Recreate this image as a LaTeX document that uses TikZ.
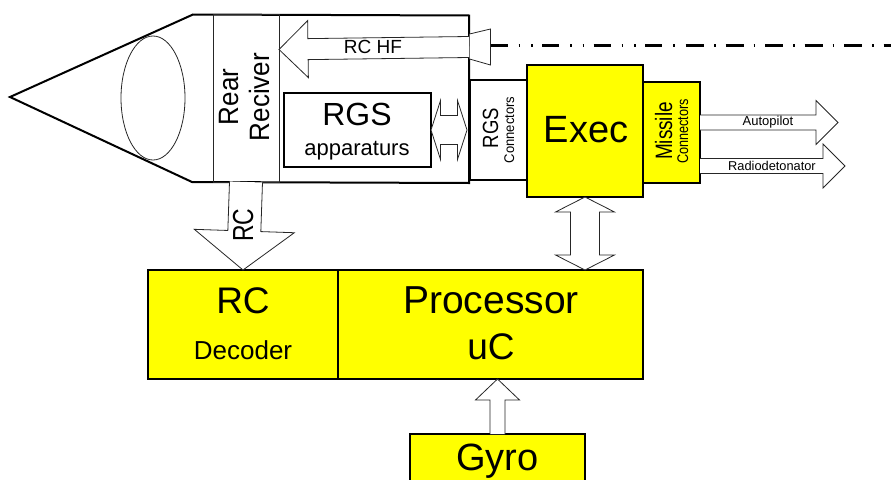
\documentclass[tikz,border=0pt]{standalone}
\usepackage{fontspec}
\setmainfont{Liberation Sans}
\usepackage{graphicx}
\usepackage{xcolor}
\usetikzlibrary{calc}
\definecolor{boxyellow}{RGB}{255,255,0}
\newcommand{\fs}[1]{\fontsize{#1}{#1}\selectfont}
\newcommand{\squeeze}[2]{\scalebox{#1}[1]{#2}}
% block arrow: from, to, shaft half width, head half width, head length
\newcommand{\blockarrow}[5]{%
  \coordinate (bh) at ($(#2)!#5pt!(#1)$);
  \filldraw[arrowline] ($(#1)!#3pt!90:(#2)$) -- ($(bh)!#3pt!90:(#2)$) -- ($(bh)!#4pt!90:(#2)$) -- (#2)
    -- ($(bh)!#4pt!-90:(#2)$) -- ($(bh)!#3pt!-90:(#2)$) -- ($(#1)!#3pt!-90:(#2)$);}
% same with a head on both ends
\newcommand{\twowayarrow}[5]{%
  \coordinate (bh) at ($(#2)!#5pt!(#1)$);
  \coordinate (bt) at ($(#1)!#5pt!(#2)$);
  \filldraw[arrowline] (#1) -- ($(bt)!#4pt!90:(#2)$) -- ($(bt)!#3pt!90:(#2)$) -- ($(bh)!#3pt!90:(#2)$) -- ($(bh)!#4pt!90:(#2)$) -- (#2)
    -- ($(bh)!#4pt!-90:(#2)$) -- ($(bh)!#3pt!-90:(#2)$) -- ($(bt)!#3pt!-90:(#2)$) -- ($(bt)!#4pt!-90:(#2)$) -- cycle;}
\tikzset{
  hull/.style={draw=black, line width=2pt, line join=miter},
  thinline/.style={draw=black!85, line width=0.8pt},
  arrowline/.style={draw=black!85, fill=white, line width=0.8pt},
  plainbox/.style={draw=black, line width=1.7pt, inner sep=0pt, outer sep=0pt},
  yellowbox/.style={plainbox, fill=boxyellow},
  label/.style={anchor=base, inner sep=0pt, outer sep=0pt},
  sideways/.style={label, rotate=90},
}
\begin{document}
\begin{tikzpicture}[x=1pt, y=-1pt]
\useasboundingbox (0,0) rectangle (891,479);
% missile body
\draw[hull] (10,97) -- (193,14.5) -- (469,15.5) -- (469,183) -- (192,182) -- cycle;
\draw[thinline] (153,98) ellipse (32 and 62);
\node[thinline, inner sep=0pt, outer sep=0pt, minimum width=66pt, minimum height=167.5pt] (rear) at (246,98.2) {};
\node[sideways, font=\fs{28}] (rearText) at (238,97) {\squeeze{.93}{Rear}};
\node[sideways, font=\fs{28}] (reciverText) at (269,97) {\squeeze{.93}{Reciver}};
% boxes in the body and behind it
\node[plainbox, minimum width=147pt, minimum height=74pt] (rgs) at (357.5,130) {};
\node[label, font=\fs{32}] (rgsText) at (357,125) {RGS};
\node[label, font=\fs{22}] (apparatursText) at (357,155) {apparaturs};
\node[plainbox, minimum width=57pt, minimum height=100pt] (rgsConn) at (498.5,130) {};
\node[sideways, font=\fs{22}] (rgsConnText) at (498,128) {\squeeze{.84}{RGS}};
\node[sideways, font=\fs{14}] (rgsConnSub) at (514,130) {\squeeze{.93}{Connectors}};
\node[yellowbox, minimum width=116pt, minimum height=132pt] (exec) at (585,131) {};
\node[label, font=\fs{38}] (execText) at (586,142) {Exec};
\node[yellowbox, minimum width=56.5pt, minimum height=101pt] (missile) at (671.7,132.5) {};
\node[sideways, font=\fs{23.7}] (missileText) at (672,131) {\squeeze{.8}{Missile}};
\node[sideways, font=\fs{15.4}] (missileSub) at (688,131.5) {\squeeze{.82}{Connectors}};
% lower row
\node[yellowbox, minimum width=190pt, minimum height=109pt] (decoder) at (243,324.5) {};
\node[label, font=\fs{37}] (decoderText) at (243,313) {RC};
\node[label, font=\fs{26}] (decoderSub) at (243,359) {Decoder};
\node[yellowbox, minimum width=305pt, minimum height=109pt] (proc) at (490.5,324.5) {};
\node[label, font=\fs{39}] (procText) at (491,313) {Processor};
\node[label, font=\fs{37}] (procSub) at (491,359) {uC};
\node[yellowbox, minimum width=175pt, minimum height=50pt] (gyro) at (497.5,459) {};
\node[label, font=\fs{38}] (gyroText) at (497.5,470) {Gyro};
% antenna horn and line of sight
\coordinate (hfTail) at (469,47);
\coordinate (hfTip) at (279,49.5);
\coordinate (horn) at (490.5,45.5);
\coordinate (losBreak) at (686,45.5);
\coordinate (losEnd) at (891,45.5);
\draw[arrowline] (469.5,34) -- (490.5,29) -- (490.5,65) -- (469.5,59);
\draw[line width=2.2pt, dash pattern=on 17pt off 11pt on 1.5pt off 11pt on 1.5pt off 9.5pt] (horn) -- (losBreak);
\draw[line width=2.2pt, dash pattern=on 18pt off 10pt on 1.5pt off 10pt] (losBreak) -- (losEnd);
% block arrows
\blockarrow{hfTail}{hfTip}{10.5}{28.5}{29}
\node[label, font=\fs{19}] (hfText) at (373,53) {RC HF};
\blockarrow{rear.south}{decoder.north}{16.5}{50}{39}
\node[sideways, font=\fs{29}] (rcText) at (253,225) {\squeeze{.79}{RC}};
\coordinate (rgsPort) at ($(rgsConn.west)+(-3,0)$);
\twowayarrow{rgs.east}{rgsPort}{14.5}{29.5}{9.5}
\coordinate (procPort) at (exec.south |- proc.north);
\twowayarrow{exec.south}{procPort}{14.5}{29.5}{15}
\coordinate (gyroPort) at (gyro.north |- proc.south);
\blockarrow{gyro.north}{gyroPort}{7.5}{22}{21}
\coordinate (autoTail) at (700,122.5);
\coordinate (autoTip) at (838,122.5);
\blockarrow{autoTail}{autoTip}{7.5}{22}{22}
\node[label, font=\fs{13}] (autoText) at (768,125) {Autopilot};
\coordinate (radioTail) at (700,166);
\coordinate (radioTip) at (845,166);
\blockarrow{radioTail}{radioTip}{7.5}{22}{22}
\node[label, font=\fs{12.8}] (radioText) at (772,170) {Radiodetonator};
\end{tikzpicture}
\end{document}
